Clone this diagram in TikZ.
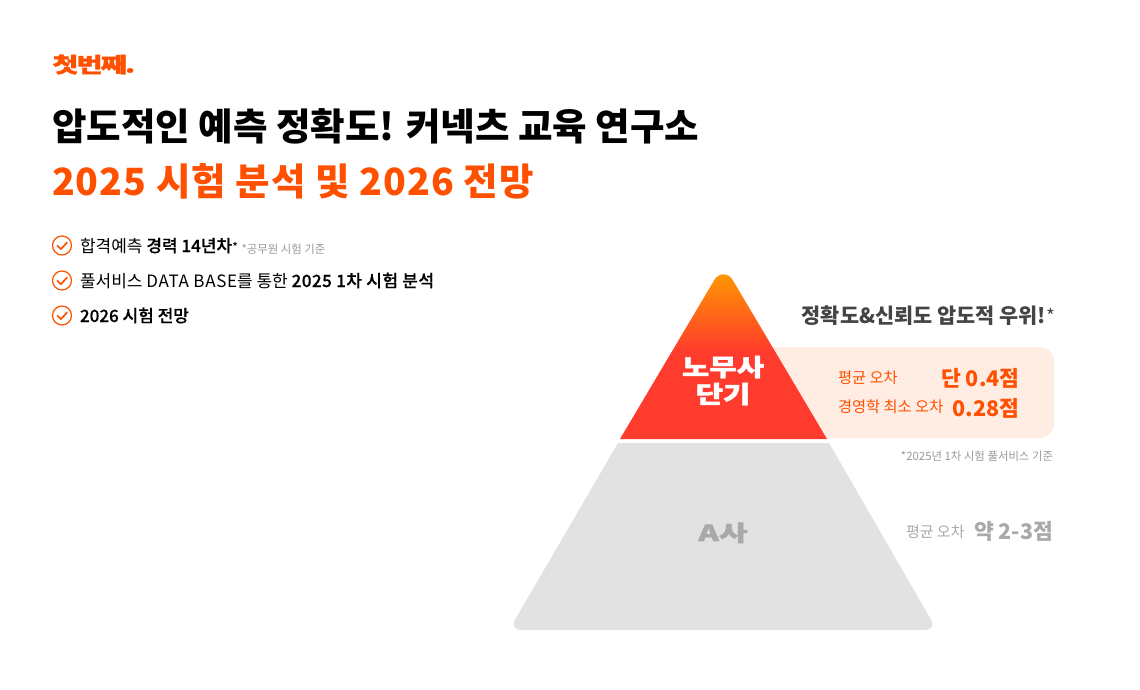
\documentclass[tikz,border=0pt]{standalone}
\usepackage{fontspec}
\setmainfont{Noto Sans CJK KR}
\newfontfamily\heavy[FakeBold=1.5]{Noto Sans CJK KR Black}
\newfontfamily\medi{Noto Sans CJK KR Medium}
\newfontfamily\semi[FakeBold=0.35]{Noto Sans CJK KR Medium}
\definecolor{brand}{HTML}{FF5000}
\definecolor{redtri}{HTML}{FF3B2D}
\definecolor{orgtri}{HTML}{FF9800}
\definecolor{panelc}{HTML}{FFEDE4}
\definecolor{greytri}{HTML}{E2E2E2}
\definecolor{greytxt}{HTML}{A9A9A9}
\definecolor{notetxt}{HTML}{999999}
\definecolor{darktxt}{HTML}{444444}
\pgfdeclareverticalshading{trishade}{100bp}{color(0bp)=(redtri); color(51bp)=(redtri); color(75bp)=(orgtri); color(100bp)=(orgtri)}
\tikzset{
  txt/.style={inner sep=0pt,outer sep=0pt,anchor=base west},
  txtr/.style={inner sep=0pt,outer sep=0pt,anchor=base east},
  bulletring/.style={draw=brand,line width=1.2pt,fill=white},
  bullettick/.style={draw=brand,line width=1.7pt,line cap=round,line join=round},
}
\newcommand{\fsz}[1]{\fontsize{#1}{#1}\selectfont}
\begin{document}
\begin{tikzpicture}[x=1pt,y=-1pt]
\useasboundingbox (0,0) rectangle (1140,690);
\fill[white] (0,0) rectangle (1140,690);
% logo and titles
\node[txt,text=brand,xscale=1.34] (logo) at (52.5,72.5) {\heavy\fsz{21}\addfontfeature{LetterSpace=-6}첫번째.};
\node[txt] (title1) at (52,140) {\medi\fsz{37.5}\bfseries 압도적인 예측 정확도! 커넥츠 교육 연구소};
\node[txt,text=brand] (title2) at (52,195) {\fsz{37.5}\bfseries\addfontfeature{LetterSpace=2.8}2025 시험 분석 및 2026 전망};
% bullets
\foreach \n/\yy in {a/245.5,b/280.5,c/315.5}{
  \node[bulletring,circle,minimum size=19pt,inner sep=0pt] (ring\n) at (62,\yy) {};
  \draw[bullettick] ([shift={(-4.5,0.3)}]ring\n.center) -- ([shift={(-1,3.6)}]ring\n.center) -- ([shift={(5,-3)}]ring\n.center);
}
\node[txt] (b1) at (80,252) {\fsz{17}합격예측 {\semi 경력 14년차}{\fsz{13}*}};
\node[txt,text=notetxt] (b1n) at (241.5,253.5) {\fsz{11.4}*공무원 시험 기준};
\node[txt] (b2) at (80,287) {\fsz{17}풀서비스 {\addfontfeature{LetterSpace=4}DATA BASE}를 통한 {\semi\addfontfeature{LetterSpace=2.8}2025 1차 시험 분석}};
\node[txt] (b3) at (80,322) {\fsz{17}\semi 2026 시험 전망};
% panel
\fill[panelc,rounded corners=14pt] (760,347) rectangle (1054,438);
% pyramid
\path[shading=trishade] (620,439) -- (713.5,281.4) .. controls (718,272) and (729,272) .. (733.5,281.4) -- (827,439) -- cycle;
\fill[greytri,rounded corners=12pt] (618,443) [sharp corners] -- (829,443) [rounded corners=12pt] -- (937,630) -- (509,630) [sharp corners] -- cycle;
% labels
\node[txtr,text=darktxt] (acc) at (1055,323) {\fsz{20.8}\bfseries 정확도\&신뢰도 압도적 우위!{\mdseries\fsz{19}*}};
\node[txt,text=brand] (l1) at (838,383) {\fsz{15.3}평균 오차};
\node[txtr,text=brand] (v1) at (1019.5,386) {\fsz{21.5}\bfseries 단 0.4점};
\node[txt,text=brand] (l2) at (838,412) {\fsz{15.3}경영학 최소 오차};
\node[txtr,text=brand] (v2) at (1019.5,416) {\fsz{21.5}\bfseries 0.28점};
\node[txtr,text=notetxt] (foot) at (1053,460) {\fsz{11.4}*2025년 1차 시험 풀서비스 기준};
\node[txt,text=greytxt] (g1) at (906,537) {\fsz{15}평균 오차};
\node[txtr,text=greytxt] (g2) at (1053,539) {\fsz{21.5}\bfseries 약 2-3점};
\node[txt,text=white,anchor=base,xscale=1.24] (t1) at (723,376) {\heavy\fsz{24}노무사};
\node[txt,text=white,anchor=base,xscale=1.24] (t2) at (723,403) {\heavy\fsz{24}단기};
\node[txt,text=greytxt,anchor=base,xscale=1.42] (t3) at (723,541) {\heavy\fsz{22}A사};
\end{tikzpicture}
\end{document}
